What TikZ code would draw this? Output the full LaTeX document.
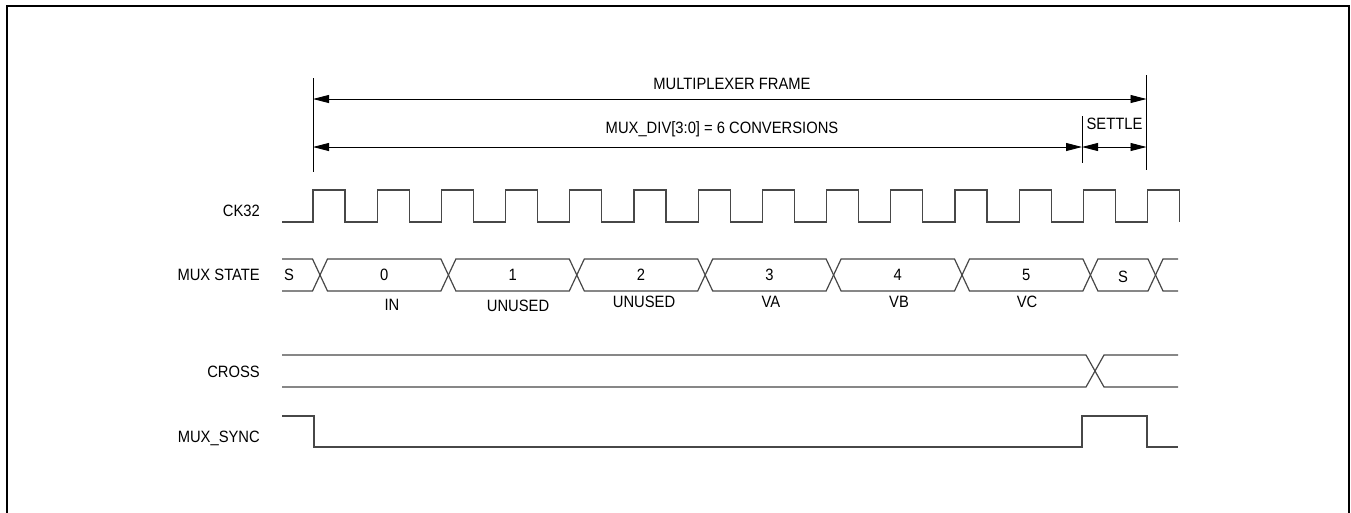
\documentclass[tikz,border=0pt]{standalone}
\usepackage{fontspec}
\setmainfont[FakeStretch=0.9]{Liberation Sans}
\usetikzlibrary{arrows.meta}
\begin{document}
\begin{tikzpicture}[x=1pt,y=-1pt,
  wave/.style={line width=1.2pt,draw=black!72,line join=miter},
  dim/.style={line width=0.9pt,draw=black},
  dimarrow/.style={dim,{Triangle[length=16pt,width=8pt]}-{Triangle[length=16pt,width=8pt]}},
  lbl/.style={font=\fontsize{16.4}{19}\selectfont,inner sep=0pt,text height=11.7pt,text depth=0pt,text=black},
  sig/.style={lbl,anchor=east}]
\useasboundingbox (0,0) rectangle (1351,512);
% frame
\draw[line width=2pt] (7,515) -- (7,6) -- (1349,6) -- (1349,515);

% signal names
\node[sig] (lck) at (260,211) {CK32};
\node[sig] (lms) at (260,275) {MUX STATE};
\node[sig] (lcr) at (260,372) {CROSS};
\node[sig] (lsy) at (260,437) {MUX\_SYNC};

% CK32
\draw[wave] (282,222) foreach \k in {0,...,13} { -- ({313+64.2*\k},222) -- ++(0,-32) -- ++(32,0) -- ++(0,32) };

% MUX STATE bus
\draw[wave] (282,259) -- (312.5,259) -- (327.5,291) -- (440.9,291) -- (455.9,259) -- (569.3,259) -- (584.3,291) -- (697.7,291) -- (712.7,259) -- (826.1,259) -- (841.1,291) -- (954.5,291) -- (969.5,259) -- (1082.9,259) -- (1097.9,291) -- (1148,291) -- (1163,259) -- (1178,259);
\draw[wave] (282,291) -- (312.5,291) -- (327.5,259) -- (440.9,259) -- (455.9,291) -- (569.3,291) -- (584.3,259) -- (697.7,259) -- (712.7,291) -- (826.1,291) -- (841.1,259) -- (954.5,259) -- (969.5,291) -- (1082.9,291) -- (1097.9,259) -- (1148,259) -- (1163,291) -- (1178,291);
\node[lbl] (s0) at (289,275) {S};
\node[lbl] (b0) at (384.2,275) {0};
\node[lbl] (b1) at (512.6,275) {1};
\node[lbl] (b2) at (641,275) {2};
\node[lbl] (b3) at (769.4,275) {3};
\node[lbl] (b4) at (897.8,275) {4};
\node[lbl] (b5) at (1026.2,275) {5};
\node[lbl] (s1) at (1123,277) {S};
\node[lbl] (n0) at (392,305) {IN};
\node[lbl] (n1) at (518,306) {UNUSED};
\node[lbl] (n2) at (644,302) {UNUSED};
\node[lbl] (n3) at (771,302) {VA};
\node[lbl] (n4) at (899,302) {VB};
\node[lbl] (n5) at (1027,302) {VC};

% CROSS
\draw[wave] (282,355) -- (1086,355) -- (1104,387) -- (1178,387);
\draw[wave] (282,387) -- (1086,387) -- (1104,355) -- (1178,355);

% MUX_SYNC
\draw[wave] (282,416) -- (314,416) -- (314,447) -- (1082,447) -- (1082,416) -- (1147,416) -- (1147,447) -- (1178,447);

% dimension lines
\coordinate (vL1) at (313,78);  \coordinate (vL2) at (313,172);
\coordinate (vR1) at (1146.5,75); \coordinate (vR2) at (1146.5,170);
\coordinate (vS1) at (1082,116); \coordinate (vS2) at (1082,163);
\draw[dim] (vL1) -- (vL2);
\draw[dim] (vR1) -- (vR2);
\draw[dim] (vS1) -- (vS2);
\coordinate (fA) at (313,99); \coordinate (fB) at (1146.5,99);
\coordinate (dA) at (313,147); \coordinate (dB) at (1082,147); \coordinate (dC) at (1146.5,147);
\draw[dimarrow] (fA) -- (fB);
\draw[dimarrow] (dA) -- (dB);
\draw[dimarrow] (dB) -- (dC);
\node[lbl] (tf) at (732,84) {MULTIPLEXER FRAME};
\node[lbl] (td) at (722,128) {MUX\_DIV[3:0] = 6 CONVERSIONS};
\node[lbl] (ts) at (1114.5,124) {SETTLE};
\end{tikzpicture}
\end{document}
